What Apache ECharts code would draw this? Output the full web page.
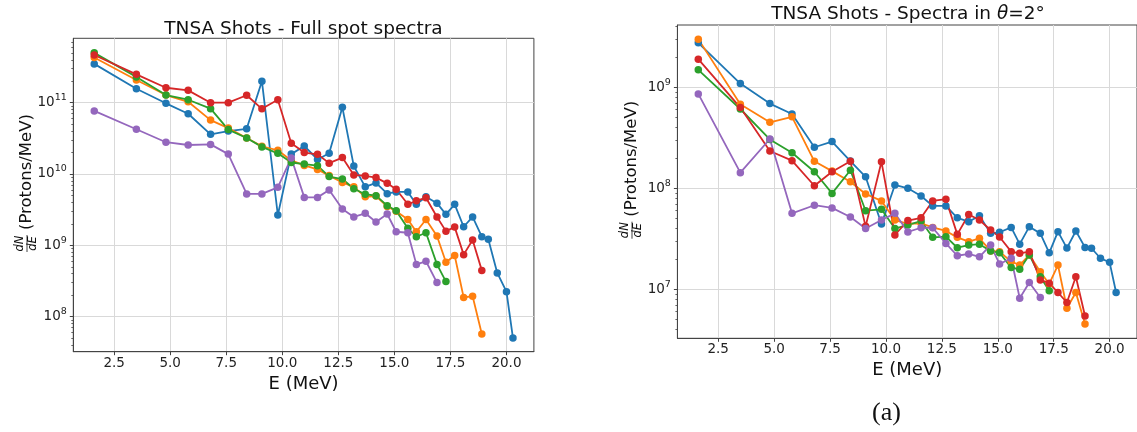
<!DOCTYPE html>
<html><head><meta charset="utf-8">
<script src="https://cdn.jsdelivr.net/npm/echarts@6/dist/echarts.min.js"></script>
<style>html,body{margin:0;padding:0;background:#fff}#c{width:1137px;height:432px}</style>
</head><body><div id="c"></div>
<script>
// Energy bins (MeV), shared by all shots
const energy = [1.61, 3.49, 4.81, 5.80, 6.80, 7.59, 8.41, 9.09, 9.80, 10.40, 10.98, 11.57, 12.09, 12.68, 13.19, 13.70,
  14.18, 14.68, 15.08, 15.60, 15.98, 16.41, 16.90, 17.30, 17.69, 18.09, 18.49, 18.90, 19.19, 19.59, 20.00, 20.29];

// Left panel: full spot spectra
const fullBlue = [3.5e11, 1.57e11, 9.8e10, 7.0e10, 3.6e10, 4.0e10, 4.3e10, 2.0e11, 2.66e9, 1.9e10, 2.47e10, 1.6e10, 1.95e10, 8.6e10, 1.29e10, 6.6e9,
  7.5e9, 5.3e9, 5.6e9, 5.6e9, 3.76e9, 4.8e9, 3.9e9, 2.72e9, 3.76e9, 1.82e9, 2.5e9, 1.32e9, 1.22e9, 4.1e8, 2.24e8, 5.0e7];
const fullOrange = [4.3e11, 2.08e11, 1.28e11, 1.03e11, 5.7e10, 4.4e10, 3.2e10, 2.45e10, 2.15e10, 1.55e10, 1.32e10, 1.16e10, 9.5e9, 7.6e9, 6.6e9, 4.8e9,
  4.9e9, 3.5e9, 3.0e9, 2.3e9, 1.55e9, 2.3e9, 1.35e9, 5.8e8, 7.2e8, 1.86e8, 1.93e8, 5.7e7];
const fullGreen = [5.0e11, 2.3e11, 1.28e11, 1.1e11, 8.25e10, 4.2e10, 3.2e10, 2.4e10, 1.95e10, 1.45e10, 1.38e10, 1.31e10, 9.2e9, 8.5e9, 6.2e9, 5.2e9,
  4.97e9, 3.6e9, 3.05e9, 1.73e9, 1.32e9, 1.5e9, 5.4e8, 3.1e8];
const fullRed = [4.67e11, 2.5e11, 1.62e11, 1.49e11, 1.0e11, 1.0e11, 1.27e11, 8.2e10, 1.1e11, 2.7e10, 2.0e10, 1.89e10, 1.42e10, 1.7e10, 9.7e9, 9.4e9,
  8.9e9, 7.4e9, 6.1e9, 3.76e9, 4.2e9, 4.65e9, 2.5e9, 1.58e9, 1.8e9, 7.4e8, 1.19e9, 4.45e8];
const fullPurple = [7.66e10, 4.24e10, 2.79e10, 2.55e10, 2.6e10, 1.9e10, 5.25e9, 5.25e9, 6.5e9, 1.68e10, 4.7e9, 4.7e9, 5.97e9, 3.23e9, 2.5e9, 2.81e9,
  2.12e9, 2.75e9, 1.55e9, 1.5e9, 5.4e8, 5.97e8, 3.0e8];

// Right panel: spectra in theta = 2 deg
const thetaBlue = [2.76e9, 1.09e9, 6.9e8, 5.45e8, 2.55e8, 2.9e8, 1.86e8, 1.3e8, 4.44e7, 1.08e8, 1.0e8, 8.4e7, 6.7e7, 6.7e7, 5.1e7, 4.67e7,
  5.36e7, 3.58e7, 3.67e7, 4.1e7, 2.8e7, 4.17e7, 3.58e7, 2.3e7, 3.72e7, 2.56e7, 3.78e7, 2.6e7, 2.55e7, 2.03e7, 1.85e7, 9.3e6];
const thetaOrange = [3.0e9, 6.8e8, 4.5e8, 5.1e8, 1.85e8, 1.48e8, 1.16e8, 8.8e7, 7.5e7, 4.85e7, 4.44e7, 4.5e7, 4.1e7, 3.78e7, 3.27e7, 2.96e7,
  3.2e7, 2.4e7, 2.36e7, 1.88e7, 1.74e7, 2.19e7, 1.49e7, 1.13e7, 1.74e7, 6.5e6, 9.3e6, 4.54e6];
const thetaGreen = [1.49e9, 6.1e8, 3.05e8, 2.25e8, 1.46e8, 8.9e7, 1.51e8, 6.0e7, 6.2e7, 4.0e7, 4.34e7, 4.74e7, 3.27e7, 3.32e7, 2.58e7, 2.74e7,
  2.8e7, 2.4e7, 2.3e7, 1.64e7, 1.58e7, 2.19e7, 1.33e7, 9.7e6];
const thetaRed = [1.9e9, 6.3e8, 2.34e8, 1.88e8, 1.06e8, 1.46e8, 1.85e8, 4.2e7, 1.83e8, 3.45e7, 4.8e7, 5.1e7, 7.5e7, 7.8e7, 3.5e7, 5.5e7,
  4.85e7, 3.87e7, 3.3e7, 2.36e7, 2.27e7, 2.36e7, 1.24e7, 1.15e7, 9.3e6, 7.4e6, 1.33e7, 5.45e6];
const thetaPurple = [8.6e8, 1.43e8, 3.08e8, 5.65e7, 6.8e7, 6.4e7, 5.2e7, 4.0e7, 4.85e7, 5.65e7, 3.7e7, 4.07e7, 4.07e7, 2.85e7, 2.15e7, 2.24e7,
  2.1e7, 2.74e7, 1.78e7, 2.03e7, 8.15e6, 1.17e7, 8.3e6];

// Tick values
const xTicks = [2.5, 5, 7.5, 10, 12.5, 15, 17.5, 20];
const fullYTicks = [1e8, 1e9, 1e10, 1e11];
const thetaYTicks = [1e7, 1e8, 1e9];
const minorMults = [2, 3, 4, 5, 6, 7, 8, 9];
const minorDecades = [1e6, 1e7, 1e8, 1e9, 1e10, 1e11];

const FONT = '"DejaVu Sans", sans-serif';
const colors = ['#1f77b4', '#ff7f0e', '#2ca02c', '#d62728', '#9467bd'];
const spine = '#444';
const gridCol = '#d9d9d9';

const minorTicks = [];
minorDecades.forEach(d => minorMults.forEach(m => minorTicks.push(m * d)));

const fullRange = [Math.pow(10, 7.508), Math.pow(10, 11.903)];
const thetaRange = [Math.pow(10, 6.515), Math.pow(10, 9.617)];
const xRange = [0.676, 21.224];

function xAxis(gi) {
  return {
    type: 'value', gridIndex: gi, min: xRange[0], max: xRange[1], position: 'bottom',
    axisLine: {show: true, lineStyle: {color: spine, width: 1}},
    axisTick: {show: true, customValues: xTicks, length: 3.5, lineStyle: {color: spine}},
    axisLabel: {customValues: xTicks, formatter: v => v.toFixed(1), fontFamily: FONT, fontSize: 13.5, color: '#222', margin: 4.5},
    splitLine: {show: true, lineStyle: {color: gridCol, width: 1}},
    name: 'E (MeV)', nameLocation: 'middle', nameGap: 20,
    nameTextStyle: {fontFamily: FONT, fontSize: 18, color: '#111'}
  };
}
function yMajor(gi, range, ticks) {
  return {
    type: 'log', logBase: 10, gridIndex: gi, min: range[0], max: range[1], position: 'left',
    axisLine: {show: true, lineStyle: {color: spine, width: 1}},
    axisTick: {show: true, customValues: ticks, length: 3.5, lineStyle: {color: spine}},
    axisLabel: {
      customValues: ticks, margin: 6.5,
      formatter: v => '{b|10}{s|' + Math.round(Math.log10(v)) + '}',
      rich: {
        b: {fontFamily: FONT, fontSize: 13.5, color: '#222', lineHeight: 20, verticalAlign: 'middle'},
        s: {fontFamily: FONT, fontSize: 9.5, color: '#222', verticalAlign: 'top'}
      }
    },
    splitLine: {show: true, lineStyle: {color: gridCol, width: 1}}
  };
}
function yMinor(gi, range) {
  return {
    type: 'log', logBase: 10, gridIndex: gi, min: range[0], max: range[1], position: 'left', offset: 0,
    axisLine: {show: false},
    axisTick: {show: true, customValues: minorTicks.filter(t => t > range[0] && t < range[1]), length: 2, lineStyle: {color: spine, width: 0.8}},
    axisLabel: {show: false},
    splitLine: {show: false}
  };
}
function mk(vals, ci, xi, yi) {
  return {
    type: 'line', xAxisIndex: xi, yAxisIndex: yi,
    data: vals.map((v, i) => [energy[i], v]),
    symbol: 'circle', symbolSize: 7.5, showSymbol: true,
    lineStyle: {width: 1.8, color: colors[ci]}, itemStyle: {color: colors[ci]},
    emphasis: {disabled: true}, silent: true, animation: false
  };
}
function yLabel(cx, cy) {
  const txt = {fill: '#111', textAlign: 'center', textVerticalAlign: 'middle', font: 'italic 11.5px ' + FONT};
  return {
    type: 'group', x: cx, y: cy, rotation: Math.PI / 2, silent: true,
    children: [
      {type: 'text', x: -48.5, y: -6.5, style: Object.assign({text: 'dN'}, txt)},
      {type: 'line', shape: {x1: -57, y1: 0, x2: -40, y2: 0}, style: {stroke: '#111', lineWidth: 0.8}},
      {type: 'text', x: -48.5, y: 6.5, style: Object.assign({text: 'dE'}, txt)},
      {type: 'text', x: -35, y: 0, style: {text: '(Protons/MeV)', fill: '#111', textAlign: 'left', textVerticalAlign: 'middle', font: '16.5px ' + FONT}}
    ]
  };
}

const chart = echarts.init(document.getElementById('c'), null, {renderer: 'canvas'});
chart.setOption({
  animation: false,
  backgroundColor: '#fff',
  grid: [
    {left: 73.3, top: 38.3, width: 460.6, height: 313.4, show: true, borderColor: spine, borderWidth: 1, backgroundColor: 'transparent'},
    {left: 677.4, top: 25, width: 460.3, height: 313.3, show: true, borderColor: spine, borderWidth: 1, backgroundColor: 'transparent'}
  ],
  xAxis: [xAxis(0), xAxis(1)],
  yAxis: [yMajor(0, fullRange, fullYTicks), yMinor(0, fullRange), yMajor(1, thetaRange, thetaYTicks), yMinor(1, thetaRange)],
  series: [
    mk(fullBlue, 0, 0, 0), mk(fullOrange, 1, 0, 0), mk(fullGreen, 2, 0, 0), mk(fullRed, 3, 0, 0), mk(fullPurple, 4, 0, 0),
    mk(thetaBlue, 0, 1, 2), mk(thetaOrange, 1, 1, 2), mk(thetaGreen, 2, 1, 2), mk(thetaRed, 3, 1, 2), mk(thetaPurple, 4, 1, 2)
  ],
  graphic: [
    {type: 'text', x: 303.5, y: 29, silent: true, style: {text: 'TNSA Shots - Full spot spectra', font: '18.5px ' + FONT, fill: '#111', textAlign: 'center', textVerticalAlign: 'middle'}},
    {type: 'text', x: 908, y: 14, silent: true, style: {
      text: '{n|TNSA Shots - Spectra in }{i|θ}{n|=2°}', textAlign: 'center', textVerticalAlign: 'middle',
      rich: {n: {fontFamily: FONT, fontSize: 18.5, fill: '#111', color: '#111'}, i: {fontFamily: FONT, fontStyle: 'italic', fontSize: 18.5, color: '#111', fill: '#111'}}
    }},
    yLabel(27, 195),
    yLabel(632, 181.7),
    {type: 'text', x: 886.5, y: 413, silent: true, style: {text: '(a)', font: '26px "Liberation Serif", serif', fill: '#111', textAlign: 'center', textVerticalAlign: 'middle'}}
  ]
});
</script>
</body></html>
